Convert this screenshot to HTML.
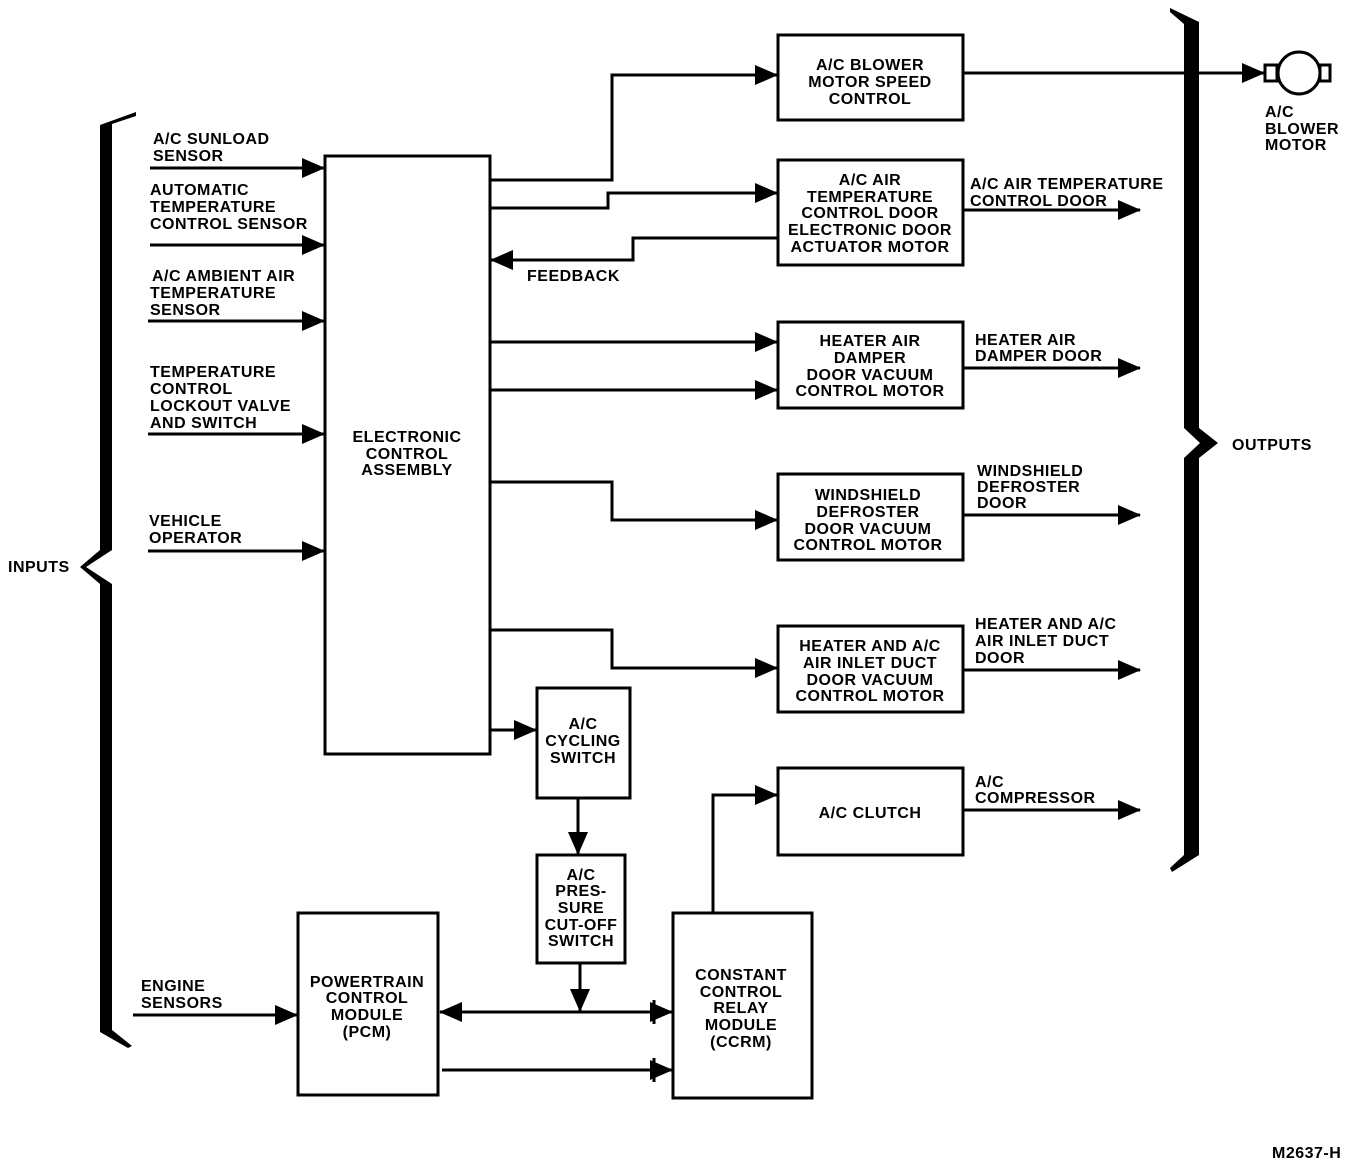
<!DOCTYPE html>
<html><head><meta charset="utf-8"><style>
html,body{margin:0;padding:0;background:#fff;}
svg{display:block;}
text{font-family:"Liberation Sans",sans-serif;font-weight:bold;font-size:16px;letter-spacing:0.5px;fill:#000;}
</style></head><body>
<svg width="1360" height="1166" viewBox="0 0 1360 1166" xmlns="http://www.w3.org/2000/svg">
<defs>
<marker id="a" markerWidth="24" markerHeight="24" refX="22" refY="12" orient="auto" markerUnits="userSpaceOnUse">
<path d="M0,2 L23,12 L0,22 Z" fill="#000"/></marker>
</defs>
<g fill="none" stroke="#000" stroke-width="3">
<rect x="325" y="156" width="165" height="598"/>
<rect x="778" y="35" width="185" height="85"/>
<rect x="778" y="160" width="185" height="105"/>
<rect x="778" y="322" width="185" height="86"/>
<rect x="778" y="474" width="185" height="86"/>
<rect x="778" y="626" width="185" height="86"/>
<rect x="778" y="768" width="185" height="87"/>
<rect x="537" y="688" width="93" height="110"/>
<rect x="537" y="855" width="88" height="108"/>
<rect x="298" y="913" width="140" height="182"/>
<rect x="673" y="913" width="139" height="185"/>
<line x1="150" y1="168" x2="324" y2="168" marker-end="url(#a)"/>
<line x1="150" y1="245" x2="324" y2="245" marker-end="url(#a)"/>
<line x1="148" y1="321" x2="324" y2="321" marker-end="url(#a)"/>
<line x1="148" y1="434" x2="324" y2="434" marker-end="url(#a)"/>
<line x1="148" y1="551" x2="324" y2="551" marker-end="url(#a)"/>
<line x1="133" y1="1015" x2="297" y2="1015" marker-end="url(#a)"/>
<polyline points="490,180 612,180 612,75 777,75" marker-end="url(#a)"/>
<polyline points="490,208 608,208 608,193 777,193" marker-end="url(#a)"/>
<polyline points="778,238 633,238 633,260 491,260" marker-end="url(#a)"/>
<line x1="490" y1="342" x2="777" y2="342" marker-end="url(#a)"/>
<line x1="490" y1="390" x2="777" y2="390" marker-end="url(#a)"/>
<polyline points="490,482 612,482 612,520 777,520" marker-end="url(#a)"/>
<polyline points="490,630 612,630 612,668 777,668" marker-end="url(#a)"/>
<line x1="490" y1="730" x2="536" y2="730" marker-end="url(#a)"/>
<line x1="578" y1="798" x2="578" y2="854" marker-end="url(#a)"/>
<line x1="580" y1="963" x2="580" y2="1011" marker-end="url(#a)"/>
<line x1="660" y1="1012" x2="440" y2="1012" marker-end="url(#a)"/>
<line x1="460" y1="1012" x2="672" y2="1012" marker-end="url(#a)"/>
<line x1="442" y1="1070" x2="672" y2="1070" marker-end="url(#a)"/>
<line x1="654" y1="1000" x2="654" y2="1024"/>
<line x1="654" y1="1058" x2="654" y2="1082"/>
<polyline points="713,913 713,795 777,795" marker-end="url(#a)"/>
<line x1="963" y1="73" x2="1264" y2="73" marker-end="url(#a)"/>
<line x1="963" y1="210" x2="1140" y2="210" marker-end="url(#a)"/>
<line x1="963" y1="368" x2="1140" y2="368" marker-end="url(#a)"/>
<line x1="963" y1="515" x2="1140" y2="515" marker-end="url(#a)"/>
<line x1="963" y1="670" x2="1140" y2="670" marker-end="url(#a)"/>
<line x1="963" y1="810" x2="1140" y2="810" marker-end="url(#a)"/>
<rect x="1265" y="65" width="12" height="16"/>
<circle cx="1299" cy="73" r="21"/>
<rect x="1320" y="65" width="10" height="16"/>
</g>
<path d="M100,125 L136,112 L136,116 L112,124 L112,550 L86,567 L112,584 L112,1030 L132,1046 L128,1048 L100,1032 L100,584 L80,567 L100,550 Z" fill="#000"/>
<path d="M1170,8 L1199,22 L1199,428 L1218,443 L1199,458 L1199,855 L1172,872 L1170,868 L1184,855 L1184,458 L1200,443 L1184,428 L1184,24 L1170,12 Z" fill="#000"/>
<g>
<text x="153" y="144">A/C SUNLOAD</text><text x="153" y="161">SENSOR</text>
<text x="150" y="195">AUTOMATIC</text><text x="150" y="212">TEMPERATURE</text><text x="150" y="229">CONTROL SENSOR</text>
<text x="152" y="281">A/C AMBIENT AIR</text><text x="150" y="298">TEMPERATURE</text><text x="150" y="315">SENSOR</text>
<text x="150" y="377">TEMPERATURE</text><text x="150" y="394">CONTROL</text><text x="150" y="411">LOCKOUT VALVE</text><text x="150" y="428">AND SWITCH</text>
<text x="149" y="526">VEHICLE</text><text x="149" y="543">OPERATOR</text>
<text x="8" y="572">INPUTS</text>
<text x="141" y="991">ENGINE</text><text x="141" y="1008">SENSORS</text>
<text x="527" y="281">FEEDBACK</text>
<text x="1232" y="450">OUTPUTS</text>
<text x="1265" y="117">A/C</text><text x="1265" y="134">BLOWER</text><text x="1265" y="150">MOTOR</text>
<text x="970" y="189">A/C AIR TEMPERATURE</text><text x="970" y="206">CONTROL DOOR</text>
<text x="975" y="345">HEATER AIR</text><text x="975" y="361">DAMPER DOOR</text>
<text x="977" y="476">WINDSHIELD</text><text x="977" y="492">DEFROSTER</text><text x="977" y="508">DOOR</text>
<text x="975" y="629">HEATER AND A/C</text><text x="975" y="646">AIR INLET DUCT</text><text x="975" y="663">DOOR</text>
<text x="975" y="787">A/C</text><text x="975" y="803">COMPRESSOR</text>
<text x="1272" y="1158">M2637-H</text>
</g>
<g text-anchor="middle">
<text x="407" y="442">ELECTRONIC</text><text x="407" y="459">CONTROL</text><text x="407" y="475">ASSEMBLY</text>
<text x="870" y="70">A/C BLOWER</text><text x="870" y="87">MOTOR SPEED</text><text x="870" y="104">CONTROL</text>
<text x="870" y="185">A/C AIR</text><text x="870" y="202">TEMPERATURE</text><text x="870" y="218">CONTROL DOOR</text><text x="870" y="235">ELECTRONIC DOOR</text><text x="870" y="252">ACTUATOR MOTOR</text>
<text x="870" y="346">HEATER AIR</text><text x="870" y="363">DAMPER</text><text x="870" y="380">DOOR VACUUM</text><text x="870" y="396">CONTROL MOTOR</text>
<text x="868" y="500">WINDSHIELD</text><text x="868" y="517">DEFROSTER</text><text x="868" y="534">DOOR VACUUM</text><text x="868" y="550">CONTROL MOTOR</text>
<text x="870" y="651">HEATER AND A/C</text><text x="870" y="668">AIR INLET DUCT</text><text x="870" y="685">DOOR VACUUM</text><text x="870" y="701">CONTROL MOTOR</text>
<text x="870" y="818">A/C CLUTCH</text>
<text x="583" y="729">A/C</text><text x="583" y="746">CYCLING</text><text x="583" y="763">SWITCH</text>
<text x="581" y="880">A/C</text><text x="581" y="896">PRES-</text><text x="581" y="913">SURE</text><text x="581" y="930">CUT-OFF</text><text x="581" y="946">SWITCH</text>
<text x="367" y="987">POWERTRAIN</text><text x="367" y="1003">CONTROL</text><text x="367" y="1020">MODULE</text><text x="367" y="1037">(PCM)</text>
<text x="741" y="980">CONSTANT</text><text x="741" y="997">CONTROL</text><text x="741" y="1013">RELAY</text><text x="741" y="1030">MODULE</text><text x="741" y="1047">(CCRM)</text>
</g>
</svg>
</body></html>
